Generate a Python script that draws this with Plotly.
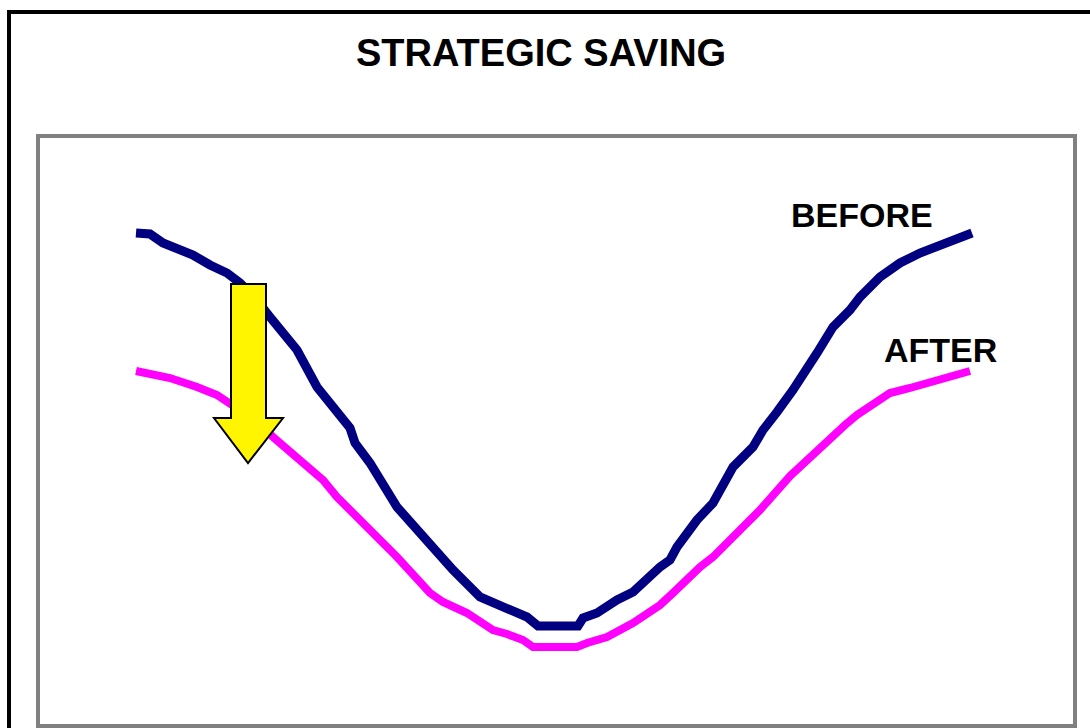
import plotly.graph_objects as go

# ---- data (x position along the period, y = cost level) ----
x_before = [136, 150, 163, 193, 210, 227, 240, 255, 270, 280, 297, 317, 337, 350, 355, 370,
            397, 417, 427, 443, 453, 480, 503, 527, 538, 560, 578, 583, 597, 617, 633, 660,
            670, 677, 697, 713, 733, 753, 763, 777, 793, 817, 833, 850, 860, 880, 900, 920,
            947, 965, 972]
y_before = [495, 494, 485, 473, 463, 455, 445, 430, 411, 398, 378, 341, 316, 300, 285, 265,
            221, 198, 185, 168, 158, 131, 121, 111, 102, 102, 102, 110, 115, 128, 136, 161,
            168, 181, 208, 225, 261, 281, 298, 316, 338, 375, 401, 418, 431, 451, 465, 475,
            485, 494, 495]

x_after = [136, 170, 197, 217, 232, 255, 273, 293, 307, 323, 337, 350, 370, 397, 430, 443,
           467, 493, 507, 523, 533, 555, 577, 587, 607, 633, 660, 673, 683, 700, 713, 737,
           760, 790, 820, 845, 857, 870, 890, 910, 937, 970]
y_after = [357, 350, 341, 333, 323, 308, 291, 273, 261, 248, 231, 218, 198, 171, 135, 126,
           115, 98, 94, 88, 81, 81, 81, 85, 91, 105, 123, 135, 145, 161, 171, 195,
           218, 252, 281, 303, 313, 321, 335, 340, 348, 357]

title_text = "STRATEGIC SAVING"
label_before = "BEFORE"
label_after = "AFTER"

W, H = 1090, 728

fig = go.Figure()
fig.add_trace(go.Scatter(x=x_before, y=y_before, mode="lines",
                         line=dict(color="#000080", width=9), name=label_before,
                         hoverinfo="skip"))
fig.add_trace(go.Scatter(x=x_after, y=y_after, mode="lines",
                         line=dict(color="#FF00FF", width=8), name=label_after,
                         hoverinfo="skip"))

font_family = "Liberation Sans, Arial, sans-serif"

fig.add_annotation(x=541, y=675, xref="x", yref="y", text="<b>%s</b>" % title_text,
                   showarrow=False, font=dict(family=font_family, size=38, color="black"),
                   xanchor="center", yanchor="middle")
fig.add_annotation(x=862, y=513, xref="x", yref="y", text="<b>%s</b>" % label_before,
                   showarrow=False, font=dict(family=font_family, size=34, color="black"),
                   xanchor="center", yanchor="middle")
fig.add_annotation(x=940, y=378, xref="x", yref="y", text="<b>%s</b>" % label_after,
                   showarrow=False, font=dict(family=font_family, size=34, color="black"),
                   xanchor="center", yanchor="middle")

# outer black frame
fig.add_shape(type="rect", xref="paper", yref="paper",
              x0=9 / W, x1=1.05, y0=-0.05, y1=1 - 12 / H,
              line=dict(color="black", width=4), fillcolor="rgba(0,0,0,0)", layer="above")
# inner grey plot frame
fig.add_shape(type="rect", xref="paper", yref="paper",
              x0=38 / W, x1=1075 / W, y0=1 - 726 / H, y1=1 - 136 / H,
              line=dict(color="#808080", width=4), fillcolor="rgba(0,0,0,0)", layer="below")
# yellow arrow
fig.add_shape(type="path", xref="x", yref="y",
              path="M231,444 L266,444 L266,310 L283,310 L248,265 L214,310 L231,310 Z",
              fillcolor="#FFF500", line=dict(color="black", width=2), layer="above")

fig.update_layout(
    width=W, height=H,
    margin=dict(l=0, r=0, t=0, b=0),
    paper_bgcolor="white", plot_bgcolor="white",
    showlegend=False,
    xaxis=dict(range=[0, W], visible=False, fixedrange=True),
    yaxis=dict(range=[0, H], visible=False, fixedrange=True),
)

fig.write_html("out.html", config={"displayModeBar": False},
               post_script="document.body.style.margin='0px';document.body.style.overflow='hidden';")
